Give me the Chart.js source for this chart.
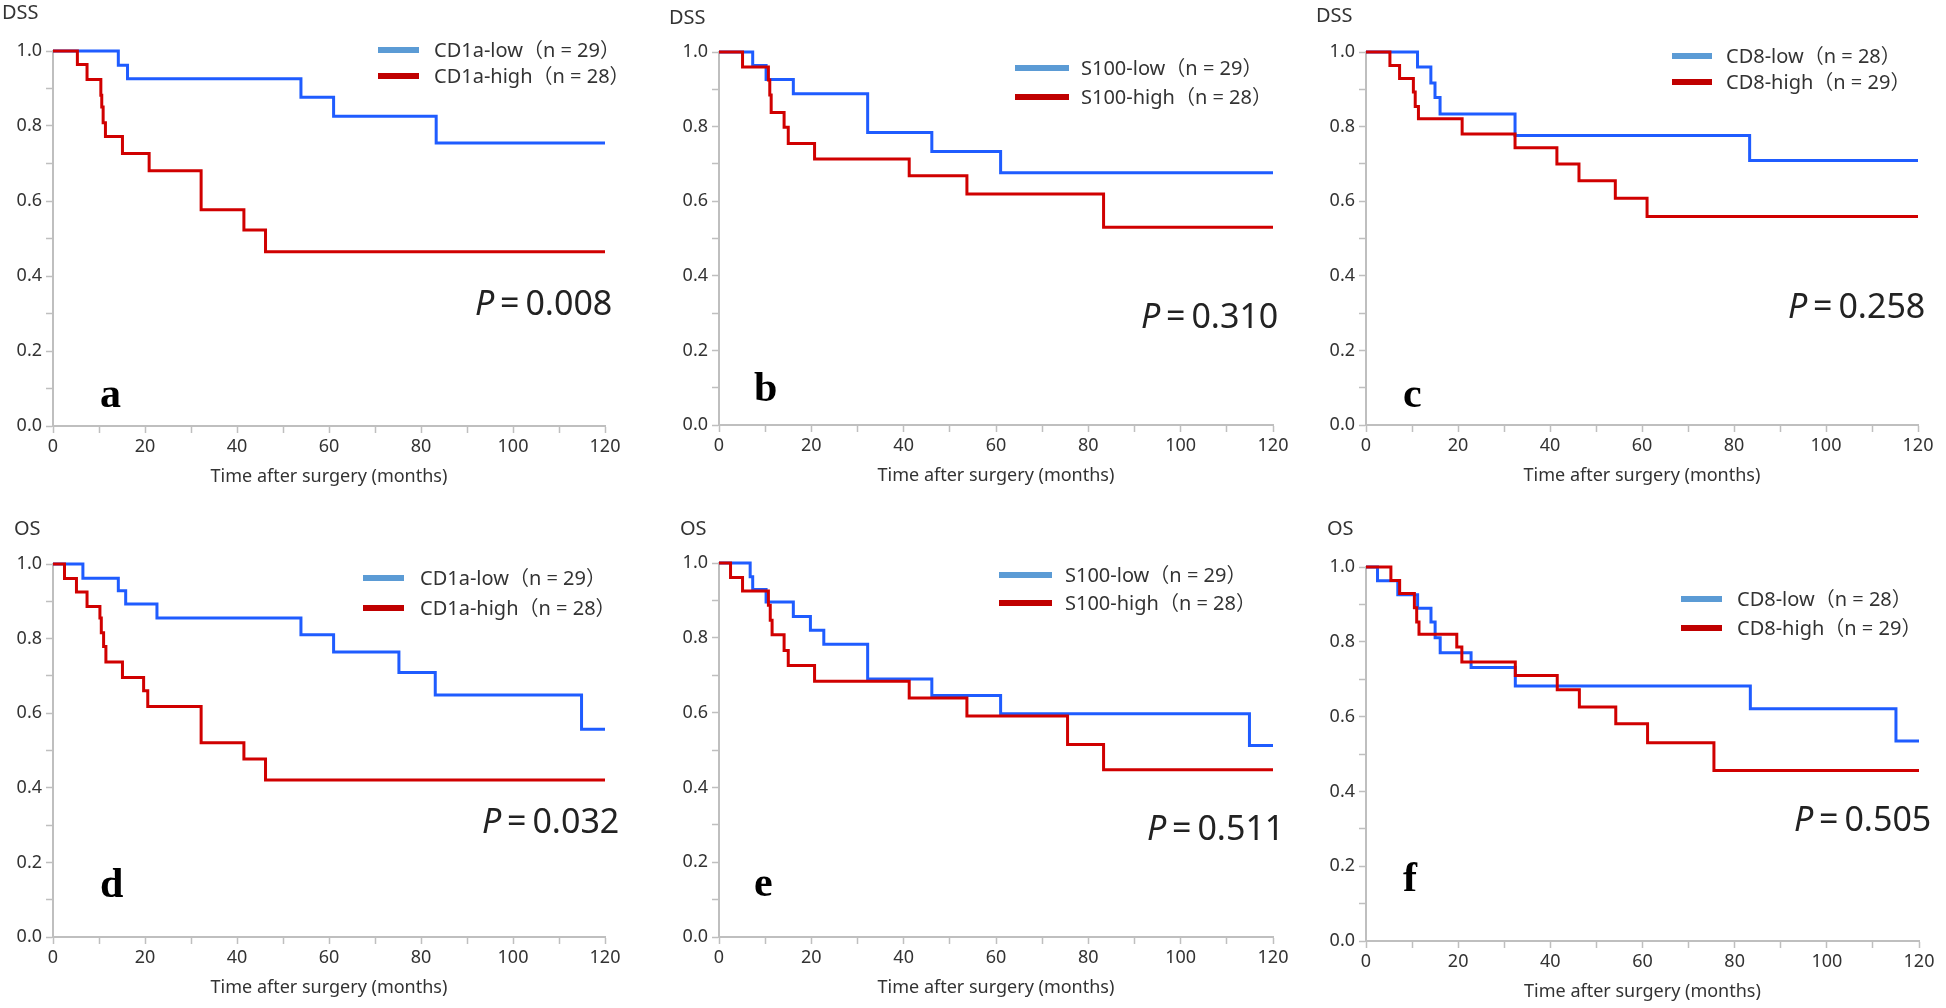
<!DOCTYPE html>
<html>
<head>
<meta charset="utf-8">
<script src="https://cdn.jsdelivr.net/npm/chart.js@4.4.1/dist/chart.umd.min.js"></script>
<style>
  html, body { margin: 0; padding: 0; background: #fff; }
  body { width: 1946px; height: 1008px; position: relative; overflow: hidden;
         font-family: "Noto Sans", "Noto Sans CJK JP", sans-serif; color: #222; }
  .panel { position: absolute; }
  .txt { position: absolute; white-space: nowrap; transform: translateY(-50%); line-height: 1; }
  .endpoint { font-size: 20px; color: #333; }
  .leg { font-size: 20px; color: #333; }
  .swatch { position: absolute; height: 6px; transform: translateY(-50%); }
  .pval { font-size: 34px; color: #222; word-spacing: -3px; }
  .letter { font-family: "Liberation Serif", "DejaVu Serif", serif; font-weight: bold; font-size: 42px; color: #000; }
</style>
</head>
<body>
<script>
// Kaplan-Meier step points (months, survival)
// a: DSS by CD1a
const aLowT  = [0, 14.2, 16.2, 53.9, 61.0, 83.3, 120];
const aLowS  = [1, 0.962, 0.926, 0.877, 0.826, 0.755, 0.755];
const aHighT = [0, 5.3, 7.4, 10.4, 10.6, 10.9, 11.4, 15.1, 20.9, 32.2, 41.5, 46.2, 120];
const aHighS = [1, 0.964, 0.924, 0.882, 0.851, 0.809, 0.772, 0.727, 0.681, 0.577, 0.523, 0.465, 0.465];
// b: DSS by S100
const bLowT  = [0, 7.3, 10.2, 16.1, 32.2, 46.1, 61.0, 120];
const bLowS  = [1, 0.964, 0.926, 0.888, 0.784, 0.733, 0.676, 0.676];
const bHighT = [0, 5.1, 10.7, 11.0, 11.3, 14.1, 15.0, 20.7, 41.2, 53.7, 83.3, 120];
const bHighS = [1, 0.960, 0.925, 0.885, 0.838, 0.798, 0.755, 0.713, 0.668, 0.619, 0.530, 0.530];
// c: DSS by CD8
const cLowT  = [0, 11.2, 14.1, 15.0, 16.1, 32.4, 83.4, 120];
const cLowS  = [1, 0.960, 0.917, 0.878, 0.834, 0.776, 0.709, 0.709];
const cHighT = [0, 5.2, 7.3, 10.3, 10.7, 11.4, 20.9, 32.4, 41.5, 46.3, 54.2, 61.1, 120];
const cHighS = [1, 0.964, 0.929, 0.893, 0.854, 0.821, 0.780, 0.743, 0.700, 0.655, 0.608, 0.559, 0.559];
// d: OS by CD1a
const dLowT  = [0, 6.5, 14.2, 15.8, 22.6, 53.9, 61.0, 75.2, 83.1, 114.9, 120];
const dLowS  = [1, 0.962, 0.928, 0.893, 0.855, 0.810, 0.764, 0.709, 0.649, 0.557, 0.557];
const dHighT = [0, 2.5, 5.1, 7.4, 10.2, 10.5, 11.0, 11.5, 15.1, 19.7, 20.6, 32.2, 41.5, 46.2, 120];
const dHighS = [1, 0.961, 0.925, 0.886, 0.855, 0.816, 0.779, 0.737, 0.696, 0.660, 0.618, 0.521, 0.477, 0.421, 0.421];
// e: OS by S100
const eLowT  = [0, 6.75, 7.3, 10.2, 16.1, 19.8, 22.7, 32.2, 46.1, 61.0, 114.9, 120];
const eLowS  = [1, 0.963, 0.929, 0.896, 0.857, 0.820, 0.783, 0.690, 0.646, 0.597, 0.512, 0.512];
const eHighT = [0, 2.5, 5.1, 10.7, 11.1, 11.5, 14.1, 15.0, 20.7, 41.2, 53.7, 75.5, 83.3, 120];
const eHighS = [1, 0.961, 0.925, 0.887, 0.847, 0.808, 0.766, 0.726, 0.684, 0.639, 0.591, 0.515, 0.447, 0.447];
// f: OS by CD8
const fLowT  = [0, 2.5, 6.9, 11.2, 14.1, 15.0, 16.1, 22.8, 32.4, 83.4, 115.0, 120];
const fLowS  = [1, 0.963, 0.926, 0.890, 0.853, 0.811, 0.771, 0.731, 0.682, 0.621, 0.535, 0.535];
const fHighT = [0, 5.4, 7.3, 10.5, 11.0, 11.5, 19.7, 20.8, 32.4, 41.5, 46.3, 54.2, 61.1, 75.5, 120];
const fHighS = [1, 0.964, 0.929, 0.891, 0.853, 0.820, 0.786, 0.746, 0.710, 0.672, 0.626, 0.581, 0.530, 0.456, 0.456];

const letters   = ['a', 'b', 'c', 'd', 'e', 'f'];
const endpoints = ['DSS', 'DSS', 'DSS', 'OS', 'OS', 'OS'];
const markers   = ['CD1a', 'S100', 'CD8', 'CD1a', 'S100', 'CD8'];
const lowN      = [29, 29, 28, 29, 29, 28];
const highN     = [28, 28, 29, 28, 28, 29];
const pValues   = ['0.008', '0.310', '0.258', '0.032', '0.511', '0.505'];
const xTitle    = 'Time after surgery (months)';

const series = [
  [aLowT, aLowS, aHighT, aHighS],
  [bLowT, bLowS, bHighT, bHighS],
  [cLowT, cLowS, cHighT, cHighS],
  [dLowT, dLowS, dHighT, dHighS],
  [eLowT, eLowS, eHighT, eHighS],
  [fLowT, fLowS, fHighT, fHighS]
];

// Layout (page pixels): plot box, and where the annotations sit
const boxes = [
  { L: 53,   R: 605,  T: 51,  B: 426 },
  { L: 719,  R: 1273, T: 52,  B: 425 },
  { L: 1366, R: 1918, T: 52,  B: 425 },
  { L: 53,   R: 605,  T: 564, B: 937 },
  { L: 719,  R: 1273, T: 563, B: 937 },
  { L: 1366, R: 1919, T: 567, B: 941 }
];
const notes = [
  { ep: [2, 12],     sw: [378, 419],   lx: 434,  ly: [50, 76],   p: [475, 302],  let: [100, 393] },
  { ep: [669, 17],   sw: [1015, 1069], lx: 1081, ly: [68, 97],   p: [1141, 315], let: [754, 387] },
  { ep: [1316, 15],  sw: [1672, 1712], lx: 1726, ly: [56, 82],   p: [1788, 305], let: [1403, 393] },
  { ep: [14, 528],   sw: [363, 404],   lx: 420,  ly: [578, 608], p: [482, 820],  let: [100, 883] },
  { ep: [680, 528],  sw: [999, 1052],  lx: 1065, ly: [575, 603], p: [1147, 827], let: [754, 882] },
  { ep: [1327, 528], sw: [1681, 1722], lx: 1737, ly: [599, 628], p: [1794, 818], let: [1403, 877] }
];

const LINE_BLUE = '#1f5cff';
const LINE_RED = '#d00000';
const KEY_BLUE = '#5b9bd5';
const KEY_RED = '#c00000';
const AXIS_GREY = '#bfbfbf';
const Y_AXIS_W = 60, X_AXIS_H = 62, PAD_TOP = 30, PAD_RIGHT = 20;

Chart.defaults.font.family = '"Noto Sans", "Noto Sans CJK JP", sans-serif';

function toPoints(ts, ss) {
  return ts.map((t, i) => ({ x: t, y: ss[i] }));
}

function addText(cls, html, x, y) {
  const el = document.createElement('div');
  el.className = 'txt ' + cls;
  el.innerHTML = html;
  el.style.left = x + 'px';
  el.style.top = y + 'px';
  document.body.appendChild(el);
}

function addSwatch(x1, x2, y, color) {
  const el = document.createElement('div');
  el.className = 'swatch';
  el.style.left = x1 + 'px';
  el.style.width = (x2 - x1) + 'px';
  el.style.top = y + 'px';
  el.style.background = color;
  document.body.appendChild(el);
}

function makePanel(i) {
  const b = boxes[i];
  const wrap = document.createElement('div');
  wrap.className = 'panel';
  wrap.style.left = (b.L - Y_AXIS_W) + 'px';
  wrap.style.top = (b.T - PAD_TOP) + 'px';
  wrap.style.width = (b.R - b.L + Y_AXIS_W + PAD_RIGHT) + 'px';
  wrap.style.height = (b.B - b.T + PAD_TOP + X_AXIS_H) + 'px';
  const canvas = document.createElement('canvas');
  wrap.appendChild(canvas);
  document.body.appendChild(wrap);

  const [lt, ls, ht, hs] = series[i];
  const tickFont = { size: 18 };

  new Chart(canvas.getContext('2d'), {
    type: 'line',
    data: {
      datasets: [
        { label: markers[i] + '-high', data: toPoints(ht, hs), borderColor: LINE_RED, order: 0 },
        { label: markers[i] + '-low', data: toPoints(lt, ls), borderColor: LINE_BLUE, order: 1 }
      ]
    },
    options: {
      responsive: true,
      maintainAspectRatio: false,
      animation: false,
      layout: { padding: { top: PAD_TOP, right: PAD_RIGHT, left: 0, bottom: 0 } },
      elements: {
        line: { borderWidth: 3, stepped: 'before', tension: 0, fill: false },
        point: { radius: 0, hoverRadius: 0 }
      },
      datasets: { line: { clip: false } },
      plugins: { legend: { display: false }, tooltip: { enabled: false } },
      scales: {
        x: {
          type: 'linear', min: 0, max: 120,
          afterFit: s => { s.height = X_AXIS_H; },
          border: { color: AXIS_GREY, width: 2 },
          grid: { drawOnChartArea: false, tickLength: 7, tickColor: AXIS_GREY, tickWidth: 1.5 },
          ticks: {
            stepSize: 10, autoSkip: false, maxRotation: 0, padding: 3, color: '#333', font: tickFont,
            callback: v => (v % 20 === 0 ? String(v) : '')
          },
          title: { display: true, text: xTitle, color: '#333', font: { size: 18 }, padding: 0 }
        },
        y: {
          min: 0, max: 1,
          afterFit: s => { s.width = Y_AXIS_W; },
          border: { color: AXIS_GREY, width: 2 },
          grid: { drawOnChartArea: false, tickLength: 7, tickColor: AXIS_GREY, tickWidth: 1.5 },
          ticks: {
            stepSize: 0.1, autoSkip: false, padding: 4, color: '#333', font: tickFont,
            callback: v => (Math.round(v * 10) % 2 === 0 ? v.toFixed(1) : '')
          }
        }
      }
    }
  });

  const n = notes[i];
  addText('endpoint', endpoints[i], n.ep[0], n.ep[1]);
  addSwatch(n.sw[0], n.sw[1], n.ly[0], KEY_BLUE);
  addSwatch(n.sw[0], n.sw[1], n.ly[1], KEY_RED);
  addText('leg', markers[i] + '-low（n = ' + lowN[i] + '）', n.lx, n.ly[0]);
  addText('leg', markers[i] + '-high（n = ' + highN[i] + '）', n.lx, n.ly[1]);
  addText('pval', '<i>P</i> = ' + pValues[i], n.p[0], n.p[1]);
  addText('letter', letters[i], n.let[0], n.let[1]);
}

for (let i = 0; i < 6; i++) makePanel(i);
</script>
</body>
</html>
